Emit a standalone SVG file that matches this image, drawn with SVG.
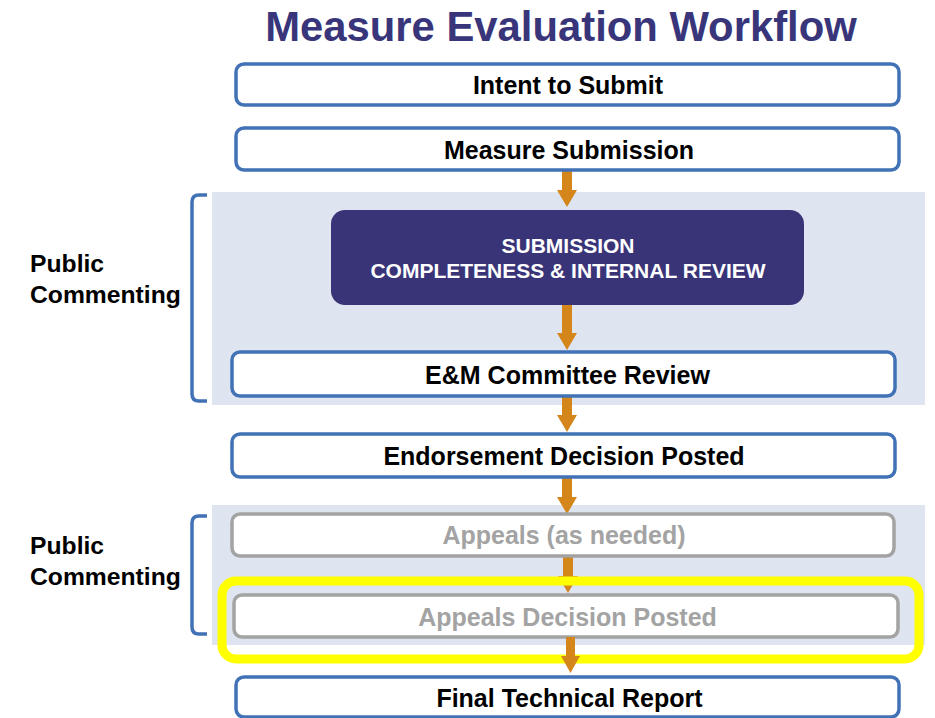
<svg xmlns="http://www.w3.org/2000/svg" width="935" height="718" viewBox="0 0 935 718">
<defs>
<style>
.bg{fill:#dfe5f0}
.box{fill:#fff;stroke:#4272b6;stroke-width:3.5}
.gbox{fill:#fff;stroke:#a3a3a3;stroke-width:3.5}
.t{font-family:"Liberation Sans",Arial,sans-serif;font-weight:bold;font-size:25px;fill:#000;text-anchor:middle}
.gt{fill:#a3a3a3}
.wt{font-family:"Liberation Sans",Arial,sans-serif;font-weight:bold;font-size:21px;fill:#fff;text-anchor:middle}
.side{font-family:"Liberation Sans",Arial,sans-serif;font-weight:bold;font-size:24.7px;fill:#000}
.br{fill:none;stroke:#4272b6;stroke-width:3.5}
.arr{fill:#d4861a}
</style>
</defs>
<rect width="935" height="718" fill="#fff"/>
<text x="561" y="41" font-family="'Liberation Sans',Arial,sans-serif" font-weight="bold" font-size="41.8" fill="#38357a" text-anchor="middle">Measure Evaluation Workflow</text>

<g id="region1">
<rect class="bg" x="212" y="192" width="713" height="213"/>
<path class="br" d="M207,195 H199 Q192,195 192,202 V394 Q192,401 199,401 H207"/>
<text class="side" x="30" y="272">Public</text>
<text class="side" x="30" y="303">Commenting</text>
</g>
<g id="region2">
<rect class="bg" x="212" y="505" width="713" height="140"/>
<path class="br" d="M207,516 H199 Q192,516 192,523 V627 Q192,634 199,634 H207"/>
<text class="side" x="30" y="554">Public</text>
<text class="side" x="30" y="585">Commenting</text>
</g>

<g id="connectors">
<path class="arr" d="M562,170 H572 V190 H577 L567,207 L557,190 H562 Z"/>
<path class="arr" d="M562,305 H572 V333 H577 L567,350 L557,333 H562 Z"/>
<path class="arr" d="M562,396 H572 V415 H577 L567,432 L557,415 H562 Z"/>
<path class="arr" d="M562,477 H572 V497 H577 L567,514 L557,497 H562 Z"/>
<path class="arr" d="M563,556 H573 V576 H578 L568,593 L558,576 H563 Z"/>
</g>

<g id="n1"><rect class="box" x="236" y="64" width="663" height="41" rx="8"/><text class="t" x="568" y="93.5">Intent to Submit</text></g>
<g id="n2"><rect class="box" x="236" y="128" width="663" height="42" rx="8"/><text class="t" x="569" y="158.5">Measure Submission</text></g>
<g id="n3"><rect x="331" y="210" width="473" height="95" rx="14" fill="#393478"/><text class="wt" x="568" y="253">SUBMISSION</text><text class="wt" x="568" y="278">COMPLETENESS &amp; INTERNAL REVIEW</text></g>
<g id="n4"><rect class="box" x="232" y="352" width="663" height="44" rx="8"/><text class="t" x="567.5" y="383.5">E&amp;M Committee Review</text></g>
<g id="n5"><rect class="box" x="232" y="434" width="663" height="43" rx="8"/><text class="t" x="564" y="464.5">Endorsement Decision Posted</text></g>
<g id="n6"><rect class="gbox" x="232" y="514" width="662" height="42" rx="8"/><text class="t gt" x="564" y="543.5">Appeals (as needed)</text></g>

<g id="highlight"><rect x="222" y="581" width="697" height="78" rx="14" fill="none" stroke="#ffff00" stroke-width="9"/></g>

<g id="n7"><rect class="gbox" x="234" y="595" width="664" height="42" rx="8"/><text class="t gt" x="567.5" y="625.5">Appeals Decision Posted</text></g>
<g id="connectors2">
<path class="arr" d="M566,637 H575 V656 H580 L570.5,673 L561,656 H566 Z"/>
</g>
<g id="n8"><rect class="box" x="236" y="677" width="663" height="40" rx="8"/><text class="t" x="569.5" y="706.5">Final Technical Report</text></g>
</svg>
